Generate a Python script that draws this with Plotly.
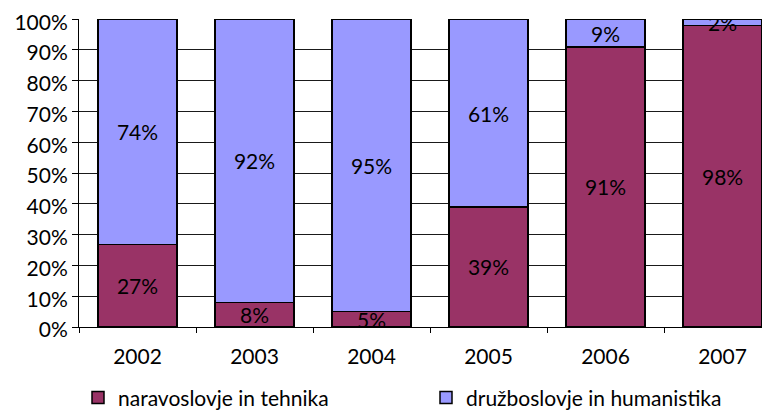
import plotly.graph_objects as go

years = ["2002", "2003", "2004", "2005", "2006", "2007"]
naravoslovje = [27, 8, 5, 39, 91, 98]
druzboslovje = [74, 92, 95, 61, 9, 2]
series_names = ["naravoslovje in tehnika", "družboslovje in humanistika"]
y_ticks = [0, 10, 20, 30, 40, 50, 60, 70, 80, 90, 100]

FONT = "Lato"
fs = 21

fig = go.Figure()
for name, vals, color, lg in [(series_names[0], naravoslovje, "#993366", "legend"),
                              (series_names[1], druzboslovje, "#9999FF", "legend2")]:
    fig.add_trace(go.Bar(
        x=years, y=vals, name=name, legend=lg,
        marker=dict(color=color, line=dict(color="#000000", width=1.5)),
        text=[f"{v}%" for v in vals], texttemplate="%{text}",
        textposition="inside", insidetextanchor="middle",
        constraintext="none",
        textfont=dict(family=FONT, size=fs, color="#000000"),
        width=0.675,
    ))

leg_common = dict(orientation="h", xref="container", yref="container",
                  xanchor="left", yanchor="middle", y=0.049, itemwidth=30,
                  font=dict(family=FONT, size=fs, color="#000000"),
                  bgcolor="rgba(0,0,0,0)")

fig.update_layout(
    barmode="stack", barnorm="percent",
    width=770, height=410,
    margin=dict(l=71, r=0, t=11, b=91, autoexpand=False),
    paper_bgcolor="white", plot_bgcolor="white",
    font=dict(family=FONT, size=fs, color="#000000"),
    showlegend=True,
    legend=dict(x=70 / 770, **leg_common),
    legend2=dict(x=418 / 770, **leg_common),
)
fig.update_xaxes(
    range=[-0.5, 5.474], showline=True, linecolor="#000000", linewidth=1,
    ticks="outside", tickson="boundaries", ticklen=5, tickcolor="#000000",
    ticklabelstandoff=11, showgrid=False, automargin=False,
    tickfont=dict(family=FONT, size=fs, color="#000000"),
)
fig.update_yaxes(
    range=[0, 100.05], tickvals=y_ticks, ticktext=[f"{t}%" for t in y_ticks],
    showline=True, linecolor="#000000", linewidth=1,
    ticks="outside", ticklen=6, tickcolor="#000000",
    showgrid=True, gridcolor="#1a1a1a", gridwidth=1, zeroline=False,
    automargin=False, ticklabelstandoff=0, ticklabeloverflow="allow",
    ticklabelshift=3,
    tickfont=dict(family=FONT, size=fs, color="#000000"),
)

fig.write_html("out.html")
